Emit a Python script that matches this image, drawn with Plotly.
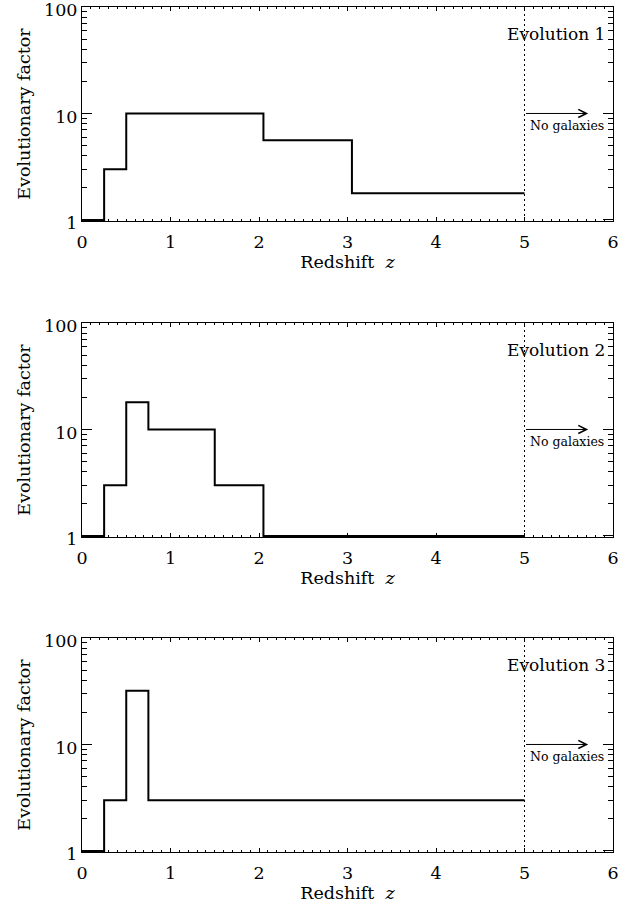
import plotly.graph_objects as go

# ---- data ----
edges_1 = [0, 0.25, 0.5, 2.05, 3.05, 5]
values_1 = [1, 3, 10, 5.6, 1.78]

edges_2 = [0, 0.25, 0.5, 0.75, 1.5, 2.05, 5]
values_2 = [1, 3, 18, 10, 3, 1]

edges_3 = [0, 0.25, 0.5, 0.75, 5]
values_3 = [1, 3, 32, 3]

panel_labels = ["Evolution 1", "Evolution 2", "Evolution 3"]
x_ticks = [0, 1, 2, 3, 4, 5, 6]
y_ticks = [1, 10, 100]
y_tick_text = ["1", "10", "100"]
y_minor = [2, 3, 4, 5, 6, 7, 8, 9, 20, 30, 40, 50, 60, 70, 80, 90]
z_limit = 5
arrow_end = 5.72
arrow_level = 10

W, H = 626, 906
FONT = "DejaVu Serif"

fig = go.Figure()

panels = [(edges_1, values_1), (edges_2, values_2), (edges_3, values_3)]
pix_y = [(7, 221), (323, 537), (638, 852)]
x0p, x1p = 82, 613

for i, (edges, vals) in enumerate(panels):
    n = i + 1
    xa = "x" if n == 1 else f"x{n}"
    ya = "y" if n == 1 else f"y{n}"
    fig.add_trace(go.Scatter(
        x=edges, y=vals + [vals[-1]], mode="lines", line_shape="hv",
        line=dict(color="black", width=2), xaxis=xa, yaxis=ya,
        cliponaxis=False, showlegend=False, hoverinfo="skip"))
    top, bot = pix_y[i]
    xkey = "xaxis" if n == 1 else f"xaxis{n}"
    ykey = "yaxis" if n == 1 else f"yaxis{n}"
    fig.update_layout(**{
        xkey: dict(
            domain=[x0p / W, x1p / W], anchor=ya, range=[0, 6],
            tickmode="array", tickvals=x_ticks,
            ticks="inside", ticklen=4, tickwidth=1, tickcolor="black",
            minor=dict(dtick=0.1, ticks="inside", ticklen=2, tickcolor="black", tickwidth=1),
            showline=True, linecolor="black", linewidth=1, mirror="allticks",
            showgrid=False, zeroline=False, automargin=False,
            ticklabelstandoff=5, ticklabeloverflow="allow",
            tickfont=dict(family=FONT, size=17.5, color="black"),
            title=dict(text="Redshift  <i>z</i>", font=dict(family=FONT, size=17.5, color="black"), standoff=3),
        ),
        ykey: dict(
            domain=[1 - bot / H, 1 - top / H], anchor=xa, type="log", range=[-0.01, 2],
            tickmode="array", tickvals=y_ticks, ticktext=y_tick_text,
            ticks="inside", ticklen=10, tickwidth=1, tickcolor="black",
            minor=dict(tickvals=y_minor, ticks="inside", ticklen=5, tickcolor="black", tickwidth=1),
            showline=True, linecolor="black", linewidth=1, mirror="allticks",
            showgrid=False, zeroline=False, automargin=False,
            ticklabeloverflow="allow", ticklabelshift=3,
            tickfont=dict(family=FONT, size=17.5, color="black"),
            title=dict(text="Evolutionary factor", font=dict(family=FONT, size=17.5, color="black"), standoff=8),
        ),
    })
    # dotted line at z = 5
    fig.add_shape(type="line", xref=xa, yref=f"{ya} domain", x0=z_limit, x1=z_limit, y0=0, y1=1,
                  line=dict(color="black", width=1, dash="2px,3px"))
    # arrow
    fig.add_annotation(xref=xa, yref=ya, axref=xa, ayref=ya, x=arrow_end, y=1, ax=z_limit, ay=1,
                       text="", showarrow=True, arrowhead=5, arrowsize=1.6, arrowwidth=1, arrowcolor="black")
    fig.add_annotation(xref=xa, yref=ya, x=5.48, y=0.885, text="No galaxies", showarrow=False,
                       font=dict(family=FONT, size=12.5, color="black"))
    fig.add_annotation(xref=xa, yref=ya, x=5.93, y=1.75, text=panel_labels[i], showarrow=False,
                       xanchor="right", font=dict(family=FONT, size=17, color="black"))

fig.update_layout(width=W, height=H, margin=dict(l=0, r=0, t=0, b=0),
                  paper_bgcolor="white", plot_bgcolor="white")

fig.write_html("out.html")
